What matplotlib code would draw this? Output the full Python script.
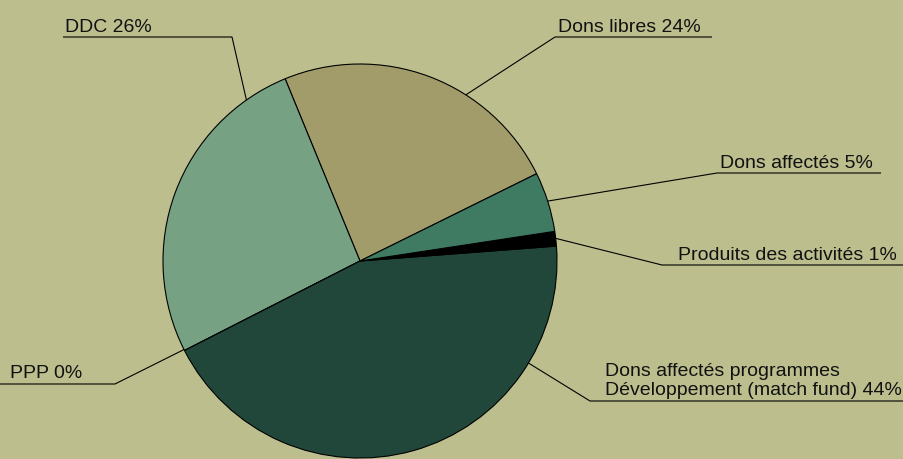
import numpy as np
import matplotlib.pyplot as plt

plt.rcParams['font.family'] = ['Liberation Sans', 'DejaVu Sans']

# Données (ordre anti-horaire à partir de la frontière Dons libres / Dons affectés)
labels = ['Dons libres', 'DDC', 'PPP',
          'Dons affectés programmes\nDéveloppement (match fund)',
          'Produits des activités', 'Dons affectés']
values = [23.9, 26.3, 0.0, 43.7, 1.2, 4.9]
colors = ['#a29c6a', '#76a283', '#76a283', '#21473a', '#000000', '#3e7b62']

W, H = 904, 459
cx, cy, r = 360, H - 261, 197

fig = plt.figure(figsize=(W / 100, H / 100), dpi=100)
fig.patch.set_facecolor('#bcbf8d')
ax = fig.add_axes([0, 0, 1, 1])
ax.set_facecolor('#bcbf8d')

ax.pie(values, colors=colors, startangle=26.3, counterclock=True,
       center=(cx, cy), radius=r, frame=True,
       wedgeprops=dict(edgecolor='black', linewidth=0.8))
ax.set_xlim(0, W)
ax.set_ylim(0, H)
ax.axis('off')

# Lignes de rappel : angle d'accroche, coude (x, y), fin du trait horizontal, x du texte
leaders = {
    'DDC': (125.2, (232, 37), 63, 65),
    'Dons libres': (57.5, (555, 37), 712, 558),
    'Dons affectés': (17.7, (717, 173), 881, 720),
    'Produits des activités': (6.6, (662, 265), 904, 678),
    'Dons affectés programmes\nDéveloppement (match fund)': (-31.2, (590, 401), 904, 605),
    'PPP': (206.7, (115, 384), 0, 10),
}

for name, val in zip(labels, values):
    ang, (ex, ey), hx, tx = leaders[name]
    a = np.deg2rad(ang)
    px, py = cx + r * np.cos(a), cy + r * np.sin(a)
    ax.plot([px, ex, hx], [py, H - ey, H - ey], color='black', lw=0.8,
            solid_capstyle='butt')
    ax.text(tx, H - ey + 1.5, f'{name} {round(val)}%', fontsize=14,
            ha='left', va='bottom', color='#111111')

plt.savefig('out.png', dpi=100, facecolor=fig.get_facecolor())
